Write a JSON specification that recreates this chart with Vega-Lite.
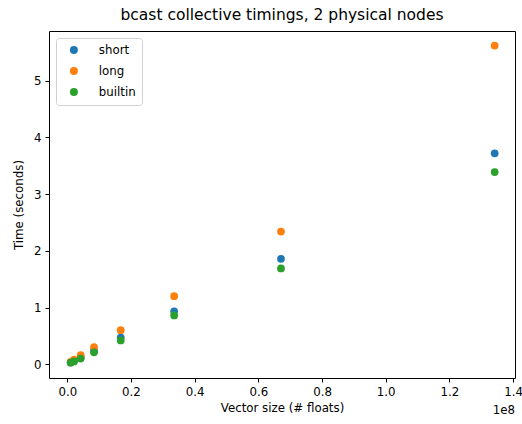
{
  "$schema": "https://vega.github.io/schema/vega-lite/v6.json",
  "width": 466,
  "height": 347,
  "autosize": "none",
  "padding": {"left": 49, "top": 31, "right": 7, "bottom": 46},
  "background": "white",
  "config": {
    "font": "DejaVu Sans",
    "view": {"stroke": "black", "strokeWidth": 1},
    "axis": {
      "grid": false,
      "domain": false,
      "tickColor": "black",
      "tickSize": 4,
      "labelColor": "black",
      "labelFontSize": 11.8,
      "titleFontSize": 11.8,
      "titleFontWeight": "normal",
      "titleColor": "black",
      "labelFont": "DejaVu Sans",
      "titleFont": "DejaVu Sans"
    }
  },
  "title": {
    "text": "bcast collective timings, 2 physical nodes",
    "fontSize": 15.5,
    "fontWeight": "normal",
    "font": "DejaVu Sans",
    "color": "black",
    "anchor": "middle",
    "offset": 8
  },
  "data": {
    "values": [
      {"size": 1048576, "time": 0.03, "series": "short"},
      {"size": 2097152, "time": 0.06, "series": "short"},
      {"size": 4194304, "time": 0.12, "series": "short"},
      {"size": 8388608, "time": 0.24, "series": "short"},
      {"size": 16777216, "time": 0.47, "series": "short"},
      {"size": 33554432, "time": 0.93, "series": "short"},
      {"size": 67108864, "time": 1.86, "series": "short"},
      {"size": 134217728, "time": 3.72, "series": "short"},
      {"size": 1048576, "time": 0.04, "series": "long"},
      {"size": 2097152, "time": 0.08, "series": "long"},
      {"size": 4194304, "time": 0.16, "series": "long"},
      {"size": 8388608, "time": 0.30, "series": "long"},
      {"size": 16777216, "time": 0.60, "series": "long"},
      {"size": 33554432, "time": 1.20, "series": "long"},
      {"size": 67108864, "time": 2.34, "series": "long"},
      {"size": 134217728, "time": 5.62, "series": "long"},
      {"size": 1048576, "time": 0.03, "series": "builtin"},
      {"size": 2097152, "time": 0.05, "series": "builtin"},
      {"size": 4194304, "time": 0.10, "series": "builtin"},
      {"size": 8388608, "time": 0.21, "series": "builtin"},
      {"size": 16777216, "time": 0.42, "series": "builtin"},
      {"size": 33554432, "time": 0.86, "series": "builtin"},
      {"size": 67108864, "time": 1.69, "series": "builtin"},
      {"size": 134217728, "time": 3.39, "series": "builtin"}
    ]
  },
  "layer": [
    {
      "mark": {"type": "circle", "size": 60, "opacity": 1},
      "encoding": {
        "x": {
          "field": "size",
          "type": "quantitative",
          "scale": {"domain": [-5750000, 140600000], "nice": false, "zero": false},
          "axis": {
            "title": "Vector size (# floats)",
            "values": [0, 20000000, 40000000, 60000000, 80000000, 100000000, 120000000, 140000000],
            "labelExpr": "format(datum.value / 1e8, '.1f')",
            "labelPadding": 4,
            "titlePadding": 5
          }
        },
        "y": {
          "field": "time",
          "type": "quantitative",
          "scale": {"domain": [-0.243, 5.877], "nice": false, "zero": false},
          "axis": {
            "title": "Time (seconds)",
            "values": [0, 1, 2, 3, 4, 5],
            "format": "d",
            "labelPadding": 4,
            "titlePadding": 9
          }
        },
        "color": {
          "field": "series",
          "type": "nominal",
          "scale": {"domain": ["short", "long", "builtin"], "range": ["#1f77b4", "#ff7f0e", "#2ca02c"]},
          "legend": {
            "title": null,
            "orient": "top-left",
            "offset": 7,
            "padding": 6,
            "symbolOffset": 6,
            "symbolType": "circle",
            "symbolSize": 64,
            "symbolStrokeWidth": 0,
            "labelFontSize": 11.8,
            "labelFont": "DejaVu Sans",
            "labelColor": "black",
            "labelOffset": 19,
            "rowPadding": 8,
            "strokeColor": "#d0d0d0",
            "cornerRadius": 3,
            "fillColor": "white"
          }
        }
      }
    },
    {
      "data": {"values": [{"label": "1e8"}]},
      "mark": {"type": "text", "align": "right", "baseline": "middle", "fontSize": 11.8, "font": "DejaVu Sans", "color": "black"},
      "encoding": {
        "text": {"field": "label", "type": "nominal"},
        "x": {"datum": 140600000, "type": "quantitative"},
        "y": {"datum": -0.808, "type": "quantitative"}
      }
    }
  ]
}
